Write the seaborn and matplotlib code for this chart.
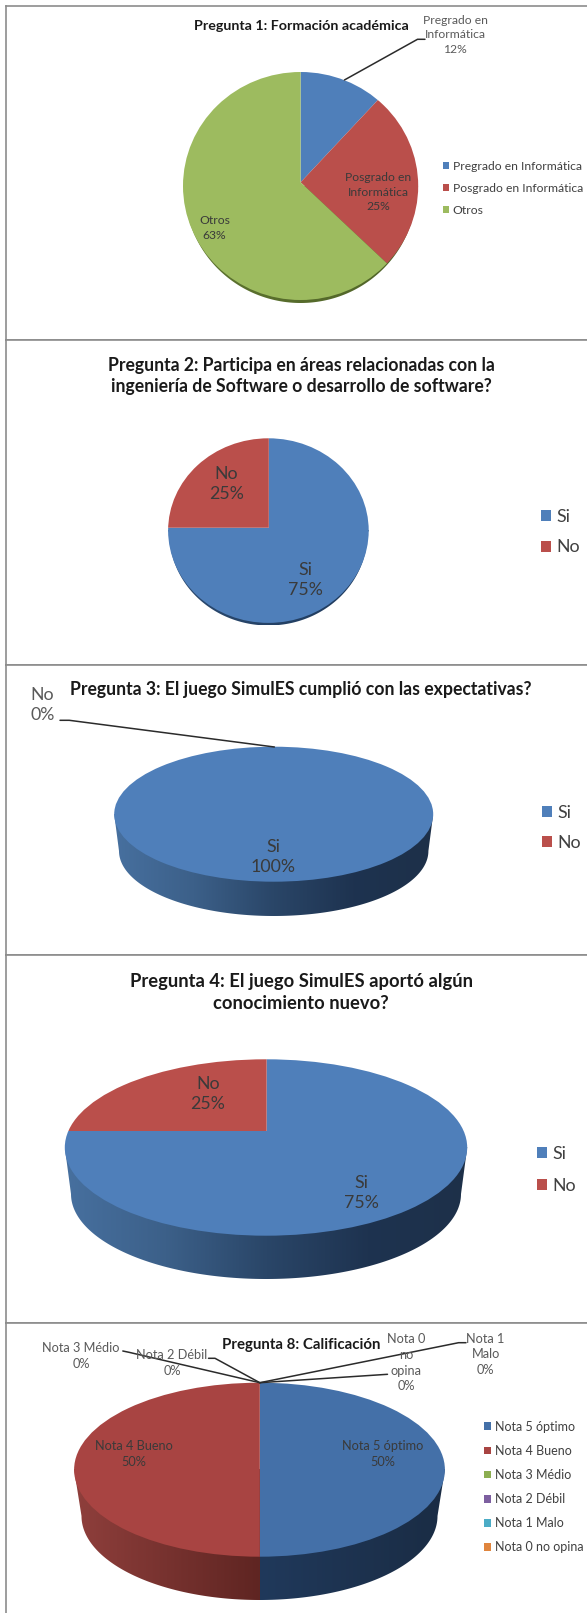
# %%
import numpy as np
import matplotlib
matplotlib.use("Agg")
import matplotlib.pyplot as plt
from matplotlib.patches import Ellipse, Patch, Polygon
import seaborn as sns

sns.set_theme(style="white")
plt.rcParams['font.family'] = ['Lato', 'DejaVu Sans']

# %% values
q1_labels = ["Pregrado en Informática", "Posgrado en Informática", "Otros"]
q1_values = [12, 25, 63]
q2_labels = ["Si", "No"]
q2_values = [75, 25]
q3_labels = ["Si", "No"]
q3_values = [100, 0]
q4_labels = ["Si", "No"]
q4_values = [75, 25]
q8_labels = ["Nota 5 óptimo", "Nota 4 Bueno", "Nota 3 Médio", "Nota 2 Débil", "Nota 1 Malo", "Nota 0 no opina"]
q8_values = [50, 50, 0, 0, 0, 0]

q1_title = "Pregunta 1: Formación académica"
q2_title = "Pregunta 2: Participa en áreas relacionadas con la\ningeniería de Software o desarrollo de software?"
q3_title = "Pregunta 3: El juego SimulES cumplió con las expectativas?"
q4_title = "Pregunta 4: El juego SimulES aportó algún\nconocimiento nuevo?"
q8_title = "Pregunta 8: Calificación"

# %%
W, H = 587, 1613
LEFT = 5.6
fig = plt.figure(figsize=(W/100, H/100), dpi=100)

colors = ["#4f7fba", "#ba4f4b", "#9dbb5f"]
colors8 = ["#4470a8", "#a84442", "#8cae51", "#7d5fa0", "#4bacc6", "#e0853d"]
wall_blue = ["#47709f", "#3c6089", "#2a4668", "#1e3350", "#1d3049"]


def panel(top, bottom, title, title_y, title_size, labels, values, pal, top_el, low_el, apex,
          walls, texts, leaders, leg_x, leg_y, leg_gap, leg_size, sq, text_size, line_sp, last=False):
    ax = fig.add_axes([LEFT/W, 1-bottom/H, (W-LEFT)/W, (bottom-top)/H])
    cx, cy, rx, ry = top_el
    cy2, rx2, ry2 = low_el

    # side of the pie
    t = np.linspace(0, np.pi, 200)
    upper = np.c_[cx + rx*np.cos(t), -cy + ry*np.sin(t)]
    lower = np.c_[cx - rx2*np.cos(t), -cy2 - ry2*np.sin(t)]
    side = Polygon(np.r_[upper, lower], closed=True, fc='none', ec='none')
    ax.add_patch(side)
    edges = np.linspace(cx-rx, cx+rx, len(walls)+1)
    for i, wall in enumerate(walls):
        cmap = sns.blend_palette(wall, as_cmap=True)
        im = ax.imshow(np.linspace(0, 1, 256)[None, :], cmap=cmap, aspect='auto', zorder=0,
                       extent=(edges[i], edges[i+1], -(cy2+ry2), -cy), interpolation='bilinear')
        im.set_clip_path(side)

    # top of the pie, apex sits off the ellipse centre because of the perspective
    wedges, _ = ax.pie(values, colors=pal, startangle=90, counterclock=False,
                       center=(apex[0], -apex[1]), radius=600, wedgeprops=dict(linewidth=0))
    el = Ellipse((cx, -cy), 2*rx, 2*ry, fc='none', ec='none')
    ax.add_patch(el)
    for w in wedges:
        w.set_clip_on(True)
        w.set_clip_path(el)

    ax.set_aspect('auto')
    ax.set(xlim=(LEFT, W), ylim=(-bottom, -top), xticks=[], yticks=[])
    ax.set_frame_on(True)
    for s in ax.spines.values():
        s.set_color("#8c8c8c")
        s.set_linewidth(1.2)
    ax.spines['right'].set_visible(False)
    ax.spines['bottom'].set_visible(not last)

    ax.text(301, -title_y, title, ha='center', va='center', fontweight='bold',
            fontsize=title_size, color='#1a1a1a', linespacing=1.35)

    for x, y, s, c in texts:
        ax.text(x, -y, s, ha='center', va='center', fontsize=text_size, color=c, linespacing=line_sp)
    for pts in leaders:
        ax.plot([p[0] for p in pts], [-p[1] for p in pts], color='#2b2b2b', lw=1.1, solid_capstyle='round')

    handles = [Patch(facecolor=w.get_facecolor(), edgecolor='none') for w in wedges]
    fh = leg_size*100/72
    ax.legend(handles, labels, loc='center left', bbox_to_anchor=(leg_x, -leg_y), bbox_transform=ax.transData,
              frameon=False, fontsize=leg_size, borderpad=0, borderaxespad=0,
              handlelength=sq/fh, handleheight=sq/fh, handletextpad=0.3,
              labelspacing=(leg_gap-fh)/fh, labelcolor='#404040')
    return ax


def pct(label, value):
    return f"{label}\n{value}%"


# %% Pregunta 1
inner = '#3a3a3a'
outer = '#5a5a5a'
panel(6, 340, q1_title, 26, 10.3, q1_labels, q1_values, colors,
      (300.6, 186, 117.6, 114), (188.5, 116, 114.5), (300.6, 182.3),
      [["#5e7530", "#4f6228"]],
      [(455, 35, "Pregrado en\nInformática\n12%", outer),
       (378, 192, "Posgrado en\nInformática\n25%", inner),
       (214.5, 228, pct(q1_labels[2], q1_values[2]), inner)],
      [[(344.4, 80), (417.5, 39.3), (425, 39.3)]],
      442.5, 188.4, 23.4, 8.75, 6.5, 8.75, 1.42)

# %% Pregunta 2
panel(340, 665, q2_title, 376, 12.7, q2_labels, q2_values, colors,
      (268.4, 530.6, 100.3, 92.3), (533.5, 99, 92), (268.8, 527.7),
      [["#2b4a70", "#1f3a5c"]],
      [(226.5, 484, pct(q2_labels[1], q2_values[1]), inner),
       (305, 580, pct(q2_labels[0], q2_values[0]), inner)],
      [],
      541, 532.2, 32.3, 12.8, 10, 12.8, 1.29)

# %% Pregunta 3
panel(665, 955, q3_title, 689.3, 12.7, q3_labels, q3_values, colors,
      (273.7, 814.2, 159.5, 67.5), (851, 154.7, 65), (274.4, 747),
      [wall_blue],
      [(42.3, 705, pct(q3_labels[1], q3_values[1]), outer),
       (273.3, 856.7, pct(q3_labels[0], q3_values[0]), inner)],
      [[(274.4, 747), (69.3, 720.3), (60, 720.3)]],
      541.7, 828, 31.4, 12.8, 10, 12.8, 1.29)

# %% Pregunta 4
panel(955, 1323, q4_title, 992.5, 13.2, q4_labels, q4_values, colors,
      (266, 1147.5, 201.2, 88.2), (1194, 195, 85), (266.6, 1131),
      [wall_blue],
      [(207.8, 1093.7, pct(q4_labels[1], q4_values[1]), inner),
       (361, 1192.7, pct(q4_labels[0], q4_values[0]), inner)],
      [],
      537, 1170, 33.7, 12.8, 10, 12.8, 1.29)

# %% Pregunta 8
apex8 = (259.8, 1382.7)
panel(1323, 1640, q8_title, 1345, 10.8, q8_labels, q8_values, colors8,
      (259.5, 1469.7, 185.4, 87), (1516, 178, 84), (259.8, 1469.7),
      [["#8f3f3c", "#5f2522"], ["#20395b", "#1a2c44"]],
      [(81, 1355.7, pct(q8_labels[2], q8_values[2]), outer),
       (172, 1362.7, pct(q8_labels[3], q8_values[3]), outer),
       (406, 1362.7, "Nota 0\nno\nopina\n0%", outer),
       (485.6, 1354.3, "Nota 1\nMalo\n0%", outer),
       (382.6, 1454, pct(q8_labels[0], q8_values[0]), inner),
       (134, 1454, pct(q8_labels[1], q8_values[1]), inner)],
      [[apex8, (129, 1352.3), (122.8, 1351)],
       [apex8, (215, 1358.3), (208.5, 1358.3)],
       [apex8, (387.5, 1374.3)],
       [apex8, (458.6, 1342.7), (466, 1342.7)]],
      483.7, 1487, 24.6, 9, 7.2, 9.2, 1.37, last=True)

fig.savefig("out.png", dpi=100, facecolor='white')
